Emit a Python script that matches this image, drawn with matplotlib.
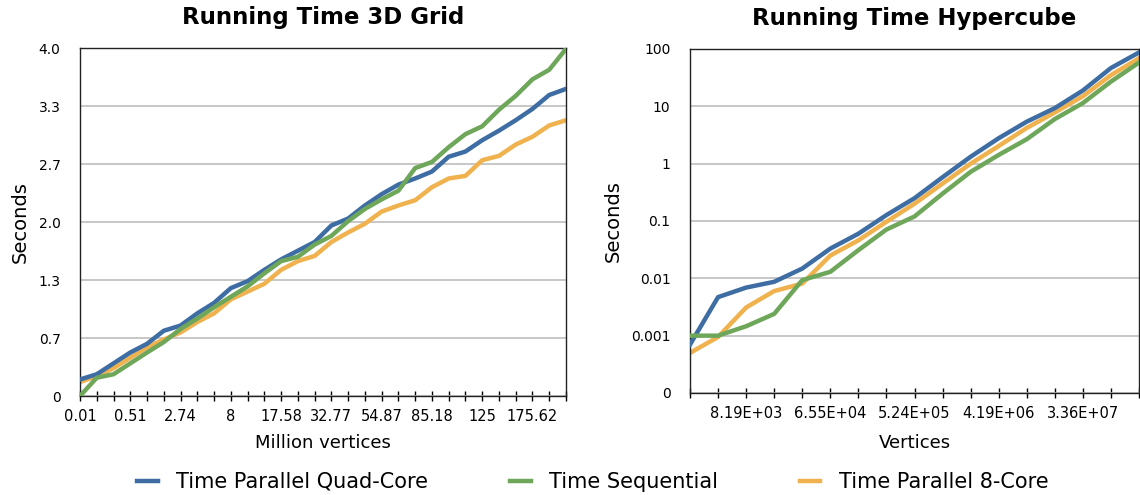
import numpy as np
import matplotlib
matplotlib.use("Agg")
import matplotlib.pyplot as plt
from matplotlib.ticker import FixedLocator, FixedFormatter

plt.rcParams['font.family'] = ['DejaVu Sans']

# 3D grid: side n = 20, 40, ..., 600 -> n^3 vertices (millions)
grid_labels = ["0.01", "0.51", "2.74", "8", "17.58", "32.77", "54.87", "85.18", "125", "175.62"]
grid_quad = [0.19, 0.25, 0.375, 0.50, 0.60, 0.75, 0.81, 0.95, 1.07, 1.24,
             1.32, 1.45, 1.57, 1.67, 1.77, 1.96, 2.04, 2.19, 2.32, 2.43,
             2.50, 2.58, 2.75, 2.81, 2.94, 3.05, 3.17, 3.30, 3.46, 3.53]
grid_seq = [0.0, 0.21, 0.25, 0.375, 0.50, 0.62, 0.77, 0.89, 1.02, 1.14,
            1.26, 1.41, 1.55, 1.60, 1.74, 1.84, 2.01, 2.15, 2.26, 2.36,
            2.62, 2.69, 2.86, 3.01, 3.10, 3.29, 3.45, 3.64, 3.75, 3.99]
grid_oct = [0.16, 0.23, 0.32, 0.44, 0.56, 0.65, 0.73, 0.85, 0.95, 1.11,
            1.20, 1.29, 1.45, 1.55, 1.61, 1.77, 1.88, 1.98, 2.12, 2.19,
            2.25, 2.40, 2.50, 2.53, 2.71, 2.76, 2.89, 2.98, 3.11, 3.17]

# Hypercube: 2^11 ... 2^27 vertices
cube_labels = ["8.19E+03", "6.55E+04", "5.24E+05", "4.19E+06", "3.36E+07"]
cube_quad = [0.0007, 0.0047, 0.0069, 0.0087, 0.0148, 0.033, 0.060, 0.127, 0.25,
             0.58, 1.32, 2.78, 5.4, 9.3, 18.9, 46.6, 87]
cube_seq = [0.001, 0.001, 0.00146, 0.0024, 0.0093, 0.013, 0.031, 0.071, 0.12,
            0.30, 0.72, 1.42, 2.67, 6.0, 11.4, 27, 58]
cube_oct = [0.0005, 0.00095, 0.0031, 0.006, 0.0081, 0.025, 0.046, 0.097, 0.20,
            0.45, 1.0, 2.03, 4.2, 7.8, 15, 35, 69]

c_blue = "#3e6da3"
c_green = "#6ea65a"
c_orange = "#f0b24e"
lw = 3.2

fig = plt.figure(figsize=(11.4, 4.95), dpi=100)
ax1 = fig.add_axes([80/1140, 1-396/495, 486/1140, 348/495])
ax2 = fig.add_axes([690/1140, 1-393/495, 449/1140, 344/495])

# --- left chart
x1 = np.arange(len(grid_quad))
ax1.plot(x1, grid_quad, color=c_blue, lw=lw, label="Time Parallel Quad-Core", zorder=3)
ax1.plot(x1, grid_seq, color=c_green, lw=lw, label="Time Sequential", zorder=3)
ax1.plot(x1, grid_oct, color=c_orange, lw=lw, label="Time Parallel 8-Core", zorder=2)
ax1.set_xlim(0, len(x1) - 1)
ax1.set_ylim(0, 4.0)
ax1.set_yticks(np.linspace(0, 4, 7))
ax1.set_yticklabels(["0", "0.7", "1.3", "2.0", "2.7", "3.3", "4.0"])
ax1.xaxis.set_major_locator(FixedLocator(np.arange(0, len(x1), 3)))
ax1.xaxis.set_major_formatter(FixedFormatter(grid_labels))
ax1.xaxis.set_minor_locator(FixedLocator(x1))
ax1.set_xlabel("Million vertices", fontsize=13, labelpad=7)
ax1.set_ylabel("Seconds", fontsize=14, labelpad=6)
ax1.set_title("Running Time 3D Grid", fontsize=16.5, fontweight="bold", pad=17)

# --- right chart
x2 = np.arange(len(cube_quad))
ax2.plot(x2, cube_quad, color=c_blue, lw=lw, zorder=3)
ax2.plot(x2, cube_seq, color=c_green, lw=lw, zorder=3)
ax2.plot(x2, cube_oct, color=c_orange, lw=lw, zorder=2)
ax2.set_yscale("log")
ax2.set_xlim(0, len(x2) - 1)
ax2.set_ylim(1e-4, 100)
ax2.yaxis.set_major_locator(FixedLocator([1e-4, 1e-3, 1e-2, 1e-1, 1, 10, 100]))
ax2.yaxis.set_major_formatter(FixedFormatter(["0", "0.001", "0.01", "0.1", "1", "10", "100"]))
ax2.yaxis.set_minor_locator(FixedLocator([]))
ax2.xaxis.set_major_locator(FixedLocator(np.arange(2, len(x2), 3)))
ax2.xaxis.set_major_formatter(FixedFormatter(cube_labels))
ax2.xaxis.set_minor_locator(FixedLocator(x2))
ax2.set_xlabel("Vertices", fontsize=13, labelpad=9)
ax2.set_ylabel("Seconds", fontsize=14, labelpad=6)
ax2.set_title("Running Time Hypercube", fontsize=16.5, fontweight="bold", pad=17)

for ax in (ax1, ax2):
    ax.grid(axis="y", color="#bdbdbd", lw=1.2, zorder=0)
    ax.set_axisbelow(True)
    for s in ax.spines.values():
        s.set_color("#222222")
        s.set_linewidth(1.0)
    ax.tick_params(axis="y", length=0, labelsize=10, pad=14)
    ax.tick_params(axis="x", which="both", direction="inout", length=7, width=1,
                   labelsize=10.5, pad=6)

fig.legend(loc="center", bbox_to_anchor=(0.52, 1 - 482/495), ncol=3,
           frameon=False, fontsize=15, handlelength=1.0, columnspacing=3.9,
           handletextpad=0.9)

fig.savefig("out.png", dpi=100)
